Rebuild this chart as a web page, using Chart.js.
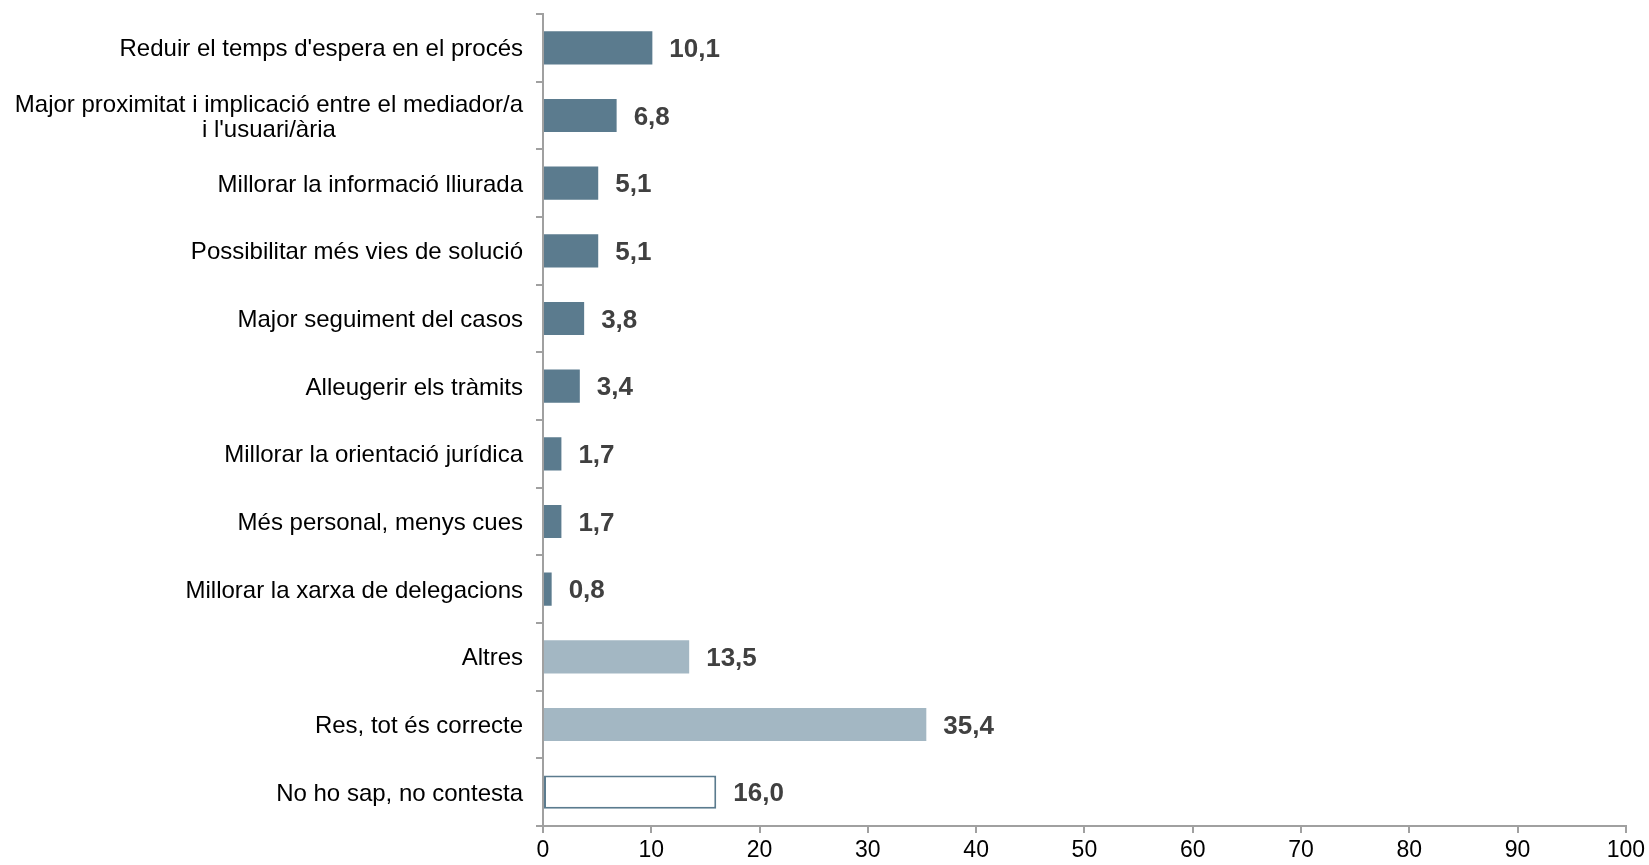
<!DOCTYPE html>
<html>
<head>
<meta charset="utf-8">
<script src="https://cdn.jsdelivr.net/npm/chart.js@4/dist/chart.umd.min.js"></script>
<style>
  html, body { margin: 0; padding: 0; background: #ffffff; }
  #wrap { width: 1649px; height: 865px; position: relative; }
</style>
</head>
<body>
<div id="wrap"><canvas id="c"></canvas></div>
<script>
const categories = [
  "Reduir el temps d'espera en el procés",
  ["Major proximitat i implicació entre el mediador/a", "i l'usuari/ària"],
  "Millorar la informació lliurada",
  "Possibilitar més vies de solució",
  "Major seguiment del casos",
  "Alleugerir els tràmits",
  "Millorar la orientació jurídica",
  "Més personal, menys cues",
  "Millorar la xarxa de delegacions",
  "Altres",
  "Res, tot és correcte",
  "No ho sap, no contesta"
];
const values = [10.1, 6.8, 5.1, 5.1, 3.8, 3.4, 1.7, 1.7, 0.8, 13.5, 35.4, 16.0];
const groups = ["a", "a", "a", "a", "a", "a", "a", "a", "a", "b", "b", "c"];
const xTicks = [0, 10, 20, 30, 40, 50, 60, 70, 80, 90, 100];

const DARK = '#5b7b8e';
const LIGHT = '#a3b7c3';
const fillFor = { a: DARK, b: LIGHT, c: '#ffffff' };
const borderFor = { a: DARK, b: LIGHT, c: DARK };
const borderWFor = { a: 0, b: 0, c: 2 };

const AXIS = '#a0a0a0';
const FONT = '"Liberation Sans", Arial, sans-serif';

const yLabelPlugin = {
  id: 'yLabels',
  afterDraw(chart) {
    const ctx = chart.ctx;
    const ys = chart.scales.y;
    const right = ys.right - 7 - 13;
    ctx.save();
    ctx.font = '24px ' + FONT;
    ctx.fillStyle = '#000000';
    ctx.textBaseline = 'middle';
    ctx.textAlign = 'center';
    const lh = 25;
    categories.forEach((lab, i) => {
      const lines = Array.isArray(lab) ? lab : [lab];
      const widest = Math.max(...lines.map(l => ctx.measureText(l).width));
      const cx = right - widest / 2;
      const cy = ys.getPixelForValue(i);
      const y0 = cy - (lines.length - 1) * lh / 2;
      lines.forEach((l, k) => ctx.fillText(l, cx, y0 + k * lh + 2));
    });
    ctx.restore();
  }
};

const valueLabelPlugin = {
  id: 'valueLabels',
  afterDatasetsDraw(chart) {
    const ctx = chart.ctx;
    const meta = chart.getDatasetMeta(0);
    ctx.save();
    ctx.font = 'bold 26px ' + FONT;
    ctx.fillStyle = '#404040';
    ctx.textBaseline = 'middle';
    ctx.textAlign = 'left';
    meta.data.forEach((bar, i) => {
      const txt = values[i].toFixed(1).replace('.', ',');
      ctx.fillText(txt, bar.x + 17, bar.y + 2);
    });
    ctx.restore();
  }
};

new Chart(document.getElementById('c'), {
  type: 'bar',
  data: {
    labels: categories,
    datasets: [{
      data: values,
      backgroundColor: groups.map(g => fillFor[g]),
      borderColor: groups.map(g => borderFor[g]),
      borderWidth: groups.map(g => borderWFor[g]),
      borderSkipped: false,
      barPercentage: 0.49,
      categoryPercentage: 1.0
    }]
  },
  options: {
    indexAxis: 'y',
    responsive: true,
    maintainAspectRatio: false,
    animation: false,
    layout: { padding: { top: 14, right: 23, left: 0, bottom: 0 } },
    plugins: { legend: { display: false }, tooltip: { enabled: false } },
    scales: {
      x: {
        min: 0, max: 100,
        afterBuildTicks(scale) { scale.ticks = xTicks.map(v => ({ value: v })); },
        afterFit(scale) { scale.height = 39; },
        grid: { drawOnChartArea: false, drawTicks: true, tickLength: 7, color: AXIS, lineWidth: 2 },
        border: { color: AXIS, width: 2 },
        ticks: { color: '#000000', font: { family: FONT, size: 23 }, padding: 4, maxRotation: 0, autoSkip: false }
      },
      y: {
        afterFit(scale) { scale.width = 543; },
        grid: { offset: true, drawOnChartArea: false, drawTicks: true, tickLength: 7, color: AXIS, lineWidth: 2 },
        border: { color: AXIS, width: 2 },
        ticks: { display: false }
      }
    }
  },
  plugins: [yLabelPlugin, valueLabelPlugin]
});
</script>
</body>
</html>
